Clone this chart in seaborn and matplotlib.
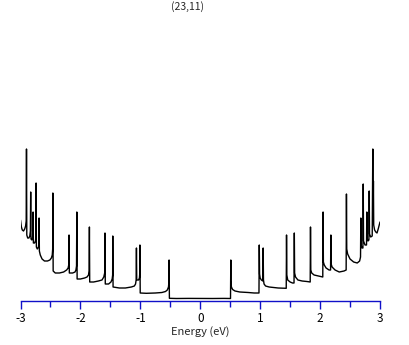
import matplotlib
matplotlib.use("Agg")
import matplotlib.pyplot as plt
import seaborn as sns
import pandas as pd
from matplotlib.ticker import MultipleLocator

sns.set_style("white")
plt.rcParams['font.family'] = ['Noto Sans CJK JP', 'DejaVu Sans']
plt.rcParams['axes.unicode_minus'] = False

title = "(23,11)"
x_label = "Energy (eV)"

# Energy (eV) and density of states (arbitrary units)
# valence side
energy_left = [
    -3.00, -2.985, -2.97, -2.95, -2.93, -2.915, -2.905, -2.90, -2.895, -2.88,
    -2.86, -2.845, -2.835, -2.83, -2.825, -2.81, -2.80, -2.793, -2.79, -2.785,
    -2.765, -2.75, -2.743, -2.74, -2.735, -2.72, -2.70, -2.693, -2.69, -2.685,
    -2.67, -2.64, -2.60, -2.55, -2.51, -2.485, -2.47, -2.463, -2.46, -2.455,
    -2.42, -2.35, -2.28, -2.23, -2.205, -2.195, -2.19, -2.185, -2.13, -2.09,
    -2.075, -2.065, -2.06, -2.055, -2.00, -1.93, -1.89, -1.865, -1.855, -1.85,
    -1.845, -1.78, -1.70, -1.64, -1.61, -1.595, -1.59, -1.585, -1.53, -1.49,
    -1.47, -1.462, -1.46, -1.455, -1.35, -1.25, -1.15, -1.10, -1.08, -1.07,
    -1.065, -1.06, -1.03, -1.015, -1.01, -1.007, -1.002, -0.90, -0.75, -0.64,
    -0.58, -0.55, -0.53, -0.522, -0.52, -0.515,
]
dos_left = [
    0.81, 0.74, 0.71, 0.70, 0.72, 0.75, 0.80, 1.52, 0.66, 0.63,
    0.63, 0.65, 0.70, 1.09, 0.62, 0.61, 0.63, 0.67, 0.89, 0.58,
    0.58, 0.60, 0.64, 1.18, 0.54, 0.52, 0.54, 0.58, 0.83, 0.50,
    0.46, 0.42, 0.40, 0.40, 0.41, 0.43, 0.46, 0.52, 1.08, 0.30,
    0.28, 0.28, 0.29, 0.31, 0.33, 0.36, 0.66, 0.28, 0.28, 0.29,
    0.31, 0.35, 0.89, 0.22, 0.22, 0.23, 0.24, 0.26, 0.30, 0.74,
    0.19, 0.19, 0.20, 0.21, 0.24, 0.28, 0.68, 0.17, 0.17, 0.19,
    0.22, 0.26, 0.65, 0.14, 0.13, 0.13, 0.14, 0.15, 0.17, 0.21,
    0.53, 0.21, 0.21, 0.23, 0.27, 0.56, 0.08, 0.077, 0.08, 0.085,
    0.095, 0.11, 0.14, 0.20, 0.41, 0.027,
]
# metallic plateau around the Fermi level
energy_gap = [-0.40, -0.20, 0.00, 0.20, 0.40, 0.505]
dos_gap = [0.025, 0.026, 0.025, 0.025, 0.026, 0.025]
# conduction side
energy_right = [
    0.51, 0.512, 0.52, 0.54, 0.58, 0.66, 0.80, 0.90, 0.98, 0.985,
    0.99, 1.00, 1.02, 1.045, 1.05, 1.055, 1.065, 1.09, 1.15, 1.30,
    1.435, 1.44, 1.445, 1.46, 1.50, 1.54, 1.565, 1.57, 1.575, 1.59,
    1.63, 1.70, 1.78, 1.835, 1.84, 1.845, 1.86, 1.90, 1.97, 2.045,
    2.05, 2.055, 2.07, 2.10, 2.15, 2.175, 2.18, 2.185, 2.20, 2.25,
    2.32, 2.40, 2.435, 2.44, 2.445, 2.46, 2.50, 2.56, 2.62, 2.66,
    2.675, 2.68, 2.685, 2.70, 2.715, 2.72, 2.725, 2.75, 2.775, 2.78,
    2.785, 2.80, 2.815, 2.82, 2.825, 2.845, 2.87, 2.88, 2.885, 2.89,
    2.895, 2.91, 2.93, 2.95, 2.97, 3.00,
]
dos_right = [
    0.41, 0.20, 0.14, 0.115, 0.10, 0.09, 0.085, 0.08, 0.08, 0.56,
    0.27, 0.23, 0.21, 0.20, 0.53, 0.21, 0.17, 0.15, 0.14, 0.13,
    0.127, 0.66, 0.26, 0.21, 0.19, 0.18, 0.18, 0.68, 0.28, 0.24,
    0.21, 0.20, 0.195, 0.19, 0.74, 0.31, 0.28, 0.26, 0.25, 0.24,
    0.89, 0.39, 0.36, 0.33, 0.31, 0.31, 0.66, 0.37, 0.34, 0.31,
    0.29, 0.30, 0.31, 1.07, 0.52, 0.47, 0.42, 0.39, 0.38, 0.40,
    0.44, 0.83, 0.56, 0.53, 0.53, 1.17, 0.60, 0.56, 0.56, 0.89,
    0.63, 0.60, 0.61, 1.10, 0.67, 0.64, 0.65, 1.52, 0.85, 1.20,
    0.76, 0.71, 0.69, 0.68, 0.72, 0.79,
]

assert len(energy_left) == len(dos_left)
assert len(energy_gap) == len(dos_gap)
assert len(energy_right) == len(dos_right)

df = pd.DataFrame({
    "Energy": energy_left + energy_gap + energy_right,
    "DOS": dos_left + dos_gap + dos_right,
})

fig = plt.figure(figsize=(4.09, 3.45), dpi=100)
ax = fig.add_axes([20.5 / 409, 44 / 345, (380 - 20.5) / 409, 281 / 345])

sns.lineplot(data=df, x="Energy", y="DOS", ax=ax, color="black",
             linewidth=1.0, estimator=None, sort=False)

ax.set_xlim(-3, 3)
ax.set_ylim(0, 2.81)
for s in ["left", "right", "top"]:
    ax.spines[s].set_visible(False)
blue = "#1010c8"
ax.spines["bottom"].set_color(blue)
ax.spines["bottom"].set_linewidth(1.0)
ax.set_yticks([])
ax.xaxis.set_major_locator(MultipleLocator(1))
ax.xaxis.set_minor_locator(MultipleLocator(0.5))
ax.tick_params(axis="x", which="major", direction="out", length=6, width=1,
               color=blue, labelsize=8.5, labelcolor="black", pad=2, bottom=True)
ax.tick_params(axis="x", which="minor", direction="out", length=4.5, width=1,
               color=blue, bottom=True)
ax.set_xlabel(x_label, fontsize=8, labelpad=1)
ax.set_ylabel("")

fig.text(187 / 409, 1 - 7 / 345, title, fontsize=7.5, ha="center", va="center")

fig.savefig("out.png", dpi=100)
